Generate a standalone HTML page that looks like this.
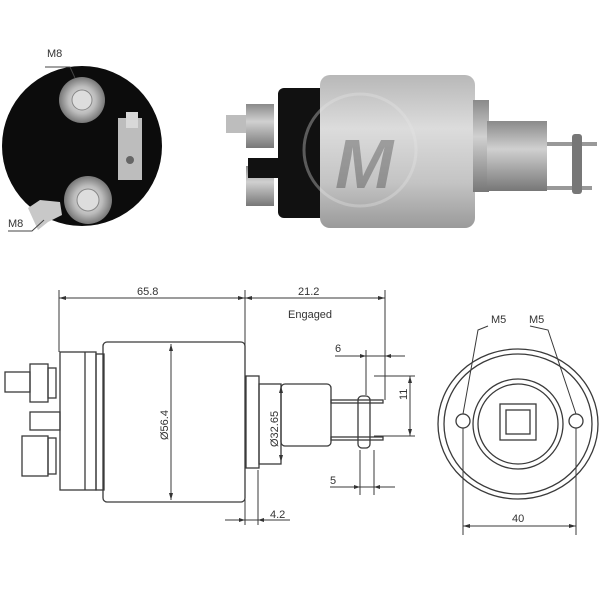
<!DOCTYPE html>
<html><head><meta charset="utf-8"><style>
html,body{margin:0;padding:0;background:#fff;width:600px;height:600px;overflow:hidden}
svg{display:block}
text{font-family:"Liberation Sans",sans-serif;fill:#333}
</style></head><body>
<svg width="600" height="600" viewBox="0 0 600 600" xmlns="http://www.w3.org/2000/svg">
<defs>
<linearGradient id="gb" x1="0" y1="0" x2="0" y2="1">
<stop offset="0" stop-color="#b8b8b8"/><stop offset="0.35" stop-color="#dcdcdc"/><stop offset="0.7" stop-color="#c4c4c4"/><stop offset="1" stop-color="#9a9a9a"/></linearGradient>
<linearGradient id="gp" x1="0" y1="0" x2="0" y2="1">
<stop offset="0" stop-color="#8a8a8a"/><stop offset="0.4" stop-color="#d0d0d0"/><stop offset="1" stop-color="#777"/></linearGradient>
<radialGradient id="gs"><stop offset="0" stop-color="#eee"/><stop offset="0.6" stop-color="#bbb"/><stop offset="1" stop-color="#777"/></radialGradient>
</defs>
<!-- top-left end view -->
<ellipse cx="82" cy="146" rx="80" ry="80" fill="#0c0c0c"/>
<circle cx="82" cy="100" r="23" fill="url(#gs)"/>
<circle cx="82" cy="100" r="10" fill="#ddd" stroke="#888"/>
<circle cx="88" cy="200" r="24" fill="url(#gs)"/>
<circle cx="88" cy="200" r="11" fill="#ddd" stroke="#888"/>
<path d="M28 208 L40 200 L60 202 L62 215 L48 222 L38 230 Z" fill="#c8c8c8"/>
<rect x="118" y="118" width="24" height="62" fill="#bdbdbd"/>
<rect x="126" y="112" width="12" height="16" fill="#d8d8d8"/>
<circle cx="130" cy="160" r="4" fill="#666"/>
<text x="47" y="57" font-size="11">M8</text>
<polyline points="45,67 70,67 75,78" fill="none" stroke="#444" stroke-width="1"/>
<text x="8" y="227" font-size="11">M8</text>
<polyline points="8,231 32,231 44,220" fill="none" stroke="#444" stroke-width="1"/>
<!-- top-right photo -->
<rect x="226" y="115" width="22" height="18" fill="#bdbdbd"/>
<rect x="246" y="104" width="28" height="44" fill="url(#gp)"/>
<rect x="246" y="166" width="28" height="40" fill="url(#gp)"/>
<rect x="248" y="158" width="50" height="20" fill="#111"/>
<rect x="278" y="88" width="48" height="130" rx="6" fill="#111"/>
<rect x="320" y="75" width="155" height="153" rx="10" fill="url(#gb)"/>
<circle cx="360" cy="150" r="56" fill="none" stroke="#e6e6e6" stroke-width="3" opacity="0.35"/>
<text x="335" y="188" font-size="70" font-style="italic" font-weight="bold" fill="#d6d6d6" opacity="0.35">M</text>
<rect x="473" y="100" width="16" height="92" fill="url(#gp)"/>
<rect x="487" y="121" width="60" height="70" fill="url(#gp)"/>
<rect x="547" y="142" width="50" height="4" fill="#999"/>
<rect x="547" y="186" width="45" height="4" fill="#999"/>
<rect x="572" y="134" width="10" height="60" rx="3" fill="#777"/>
<!-- bottom drawing -->
<g fill="none" stroke="#3a3a3a" stroke-width="1.3">
<rect x="103" y="342" width="142" height="160" rx="4"/>
<rect x="96" y="354" width="8" height="136"/>
<rect x="60" y="352" width="36" height="138"/>
<line x1="85" y1="352" x2="85" y2="490"/>
<rect x="30" y="364" width="18" height="38"/>
<rect x="48" y="368" width="8" height="30"/>
<rect x="5" y="372" width="25" height="20"/>
<rect x="30" y="412" width="30" height="18"/>
<rect x="22" y="436" width="26" height="40"/>
<rect x="48" y="438" width="8" height="36"/>
<rect x="246" y="376" width="13" height="92"/>
<rect x="259" y="384" width="22" height="80"/>
<rect x="281" y="384" width="50" height="62" rx="4"/>
<rect x="331" y="400" width="52" height="3"/>
<rect x="331" y="437" width="52" height="3"/>
<rect x="358" y="396" width="12" height="52" rx="4"/>
</g>
<g fill="none" stroke="#3a3a3a" stroke-width="1">
<line x1="59" y1="290" x2="59" y2="352"/>
<line x1="245" y1="290" x2="245" y2="342"/>
<line x1="245" y1="342" x2="245" y2="525"/>
<line x1="59" y1="298" x2="245" y2="298"/>
<line x1="245" y1="298" x2="385" y2="298"/>
<line x1="385" y1="290" x2="385" y2="400"/>
<line x1="171" y1="344" x2="171" y2="500"/>
<line x1="281" y1="386" x2="281" y2="462"/>
<line x1="335" y1="356" x2="405" y2="356"/>
<line x1="366" y1="350" x2="366" y2="395"/>
<line x1="374" y1="376" x2="415" y2="376"/>
<line x1="374" y1="436" x2="415" y2="436"/>
<line x1="410" y1="376" x2="410" y2="436"/>
<line x1="330" y1="487" x2="395" y2="487"/>
<line x1="360" y1="450" x2="360" y2="495"/>
<line x1="374" y1="450" x2="374" y2="495"/>
<line x1="258" y1="470" x2="258" y2="525"/>
<line x1="225" y1="520" x2="290" y2="520"/>
</g>
<g fill="none" stroke="#3a3a3a" stroke-width="1.3">
<ellipse cx="518" cy="424" rx="80" ry="75"/>
<ellipse cx="518" cy="424" rx="74" ry="70"/>
<circle cx="518" cy="424" r="45"/>
<circle cx="518" cy="424" r="40"/>
<rect x="500" y="404" width="36" height="36"/>
<rect x="506" y="410" width="24" height="24"/>
<circle cx="463" cy="421" r="7"/>
<circle cx="576" cy="421" r="7"/>
</g>
<g fill="none" stroke="#3a3a3a" stroke-width="1">
<line x1="463" y1="428" x2="463" y2="535"/>
<line x1="576" y1="428" x2="576" y2="535"/>
<line x1="463" y1="526" x2="576" y2="526"/>
<polyline points="488,326 478,330 463,414"/>
<polyline points="530,326 548,330 576,414"/>
</g>
<g fill="#333">
<path d="M59 298 l7 -2 v4z"/><path d="M245 298 l-7 -2 v4z"/>
<path d="M245 298 l7 -2 v4z"/><path d="M385 298 l-7 -2 v4z"/>
<path d="M171 344 l-2 7 h4z"/><path d="M171 500 l-2 -7 h4z"/>
<path d="M281 386 l-2 7 h4z"/><path d="M281 462 l-2 -7 h4z"/>
<path d="M410 376 l-2 7 h4z"/><path d="M410 436 l-2 -7 h4z"/>
<path d="M463 526 l7 -2 v4z"/><path d="M576 526 l-7 -2 v4z"/>
<path d="M366 356 l-6 -2 v4z"/><path d="M385 356 l6 -2 v4z"/>
<path d="M360 487 l-6 -2 v4z"/><path d="M374 487 l6 -2 v4z"/>
<path d="M245 520 l-6 -2 v4z"/><path d="M258 520 l6 -2 v4z"/>
</g>
<g font-size="11">
<text x="137" y="295">65.8</text>
<text x="298" y="295">21.2</text>
<text x="288" y="318">Engaged</text>
<text x="335" y="352">6</text>
<text x="330" y="484">5</text>
<text x="270" y="518">4.2</text>
<text x="512" y="522">40</text>
<text x="491" y="323">M5</text>
<text x="529" y="323">M5</text>
<text transform="translate(168 440) rotate(-90)">Ø56.4</text>
<text transform="translate(278 447) rotate(-90)">Ø32.65</text>
<text transform="translate(407 400) rotate(-90)">11</text>
</g>
</svg>
</body></html>
